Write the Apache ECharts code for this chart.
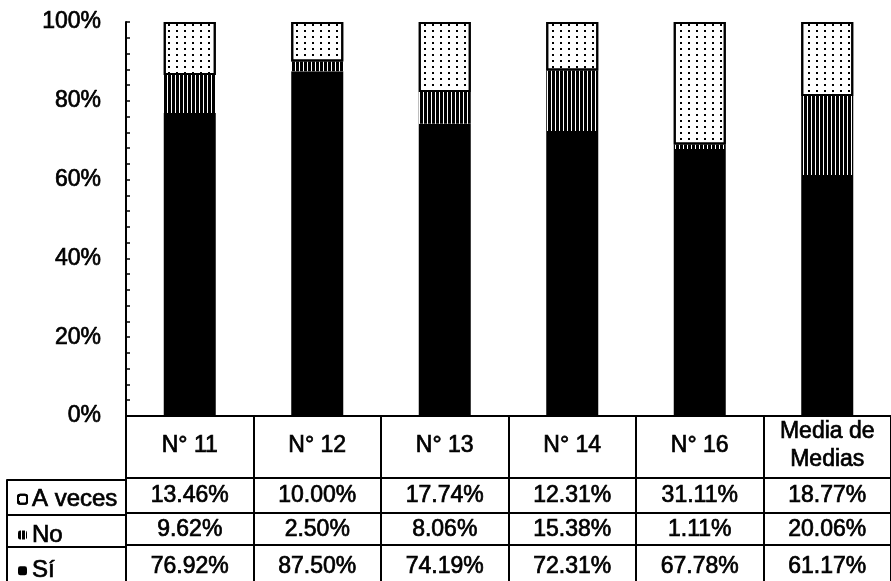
<!DOCTYPE html>
<html>
<head>
<meta charset="utf-8">
<script src="https://cdn.jsdelivr.net/npm/echarts@6/dist/echarts.min.js"></script>
<style>
html,body{margin:0;padding:0;background:#fff;}
#chart{width:891px;height:581px;}
</style>
</head>
<body>
<div id="chart"></div>
<script>
const categories = ['N° 11', 'N° 12', 'N° 13', 'N° 14', 'N° 16', 'Media de\nMedias'];
const siValues = [76.92, 87.50, 74.19, 72.31, 67.78, 61.17];
const noValues = [9.62, 2.50, 8.06, 15.38, 1.11, 20.06];
const aVecesValues = [13.46, 10.00, 17.74, 12.31, 31.11, 18.77];
const seriesNames = ['Sí', 'No', 'A veces'];
const legendOrder = ['A veces', 'No', 'Sí'];
const yMin = 0, yMax = 100, yStep = 20;

const FONT = "'Liberation Sans', Arial, sans-serif";
const FS = 23;
const TXT = { color: '#000', fontFamily: FONT, textBorderColor: '#000', textBorderWidth: 0.7 };
const fmt = v => v.toFixed(2) + '%';

const chart = echarts.init(document.getElementById('chart'));

function tableAxis(gridIndex, data, offset, tickLen, margin, formatter) {
  return {
    type: 'category', gridIndex: gridIndex, position: 'bottom', offset: offset, data: data,
    axisLine: { show: true, onZero: false, lineStyle: { color: '#000', width: 2 } },
    axisTick: { show: true, interval: 0, length: tickLen, lineStyle: { color: '#000', width: 2 } },
    axisLabel: formatter ? Object.assign({
      show: true, interval: 0, margin: margin, verticalAlign: 'middle',
      fontSize: FS, lineHeight: 28,
      formatter: formatter
    }, TXT) : { show: false },
    splitLine: { show: false }
  };
}

const option = {
  animation: false,
  backgroundColor: '#fff',
  textStyle: { fontFamily: FONT },
  grid: [
    { left: 126, right: -8, top: 22, bottom: 163 },
    { left: 7, width: 119, top: 22, bottom: 163 }
  ],
  legend: {
    orient: 'vertical', left: 17, top: 487, padding: 0,
    width: 110, height: 120,
    itemWidth: 9, itemHeight: 9, itemGap: 11,
    data: legendOrder,
    selectedMode: false,
    textStyle: Object.assign({ fontSize: 24, lineHeight: 22 }, TXT)
  },
  xAxis: [
    tableAxis(0, categories, 0, 62, 30, (v) => v),
    tableAxis(0, categories, 62, 35, 18, (v, i) => fmt(aVecesValues[i])),
    tableAxis(0, categories, 97, 32, 17, (v, i) => fmt(noValues[i])),
    tableAxis(0, categories, 129, 40, 22, (v, i) => fmt(siValues[i])),
    tableAxis(1, [''], 62, 35, 0, null),
    tableAxis(1, [''], 97, 32, 0, null),
    tableAxis(1, [''], 129, 40, 0, null)
  ],
  yAxis: [
    {
      type: 'value', gridIndex: 0, min: yMin, max: yMax, interval: yStep,
      axisLine: { show: true, lineStyle: { color: '#000', width: 2 } },
      axisTick: { show: true, inside: true, length: 4, lineStyle: { color: '#000', width: 1.5 } },
      minorTick: { show: true, splitNumber: 5, length: 4, lineStyle: { color: '#000', width: 1.5 } },
      splitLine: { show: false },
      axisLabel: Object.assign({ formatter: '{value}%', fontSize: FS, margin: 25 }, TXT)
    },
    { type: 'value', gridIndex: 1, show: false, min: 0, max: 1 }
  ],
  series: [
    {
      name: seriesNames[0], type: 'bar', stack: 'total', barWidth: 52,
      xAxisIndex: 0, yAxisIndex: 0, data: siValues,
      itemStyle: { color: '#000' }
    },
    {
      name: seriesNames[1], type: 'bar', stack: 'total', barWidth: 52,
      xAxisIndex: 0, yAxisIndex: 0, data: noValues,
      itemStyle: {
        color: '#fff',
        decal: { symbol: 'rect', symbolSize: 1, symbolKeepAspect: false, color: '#000',
                 dashArrayX: [3, 1], dashArrayY: [6, 0] }
      }
    },
    {
      name: seriesNames[2], type: 'bar', stack: 'total', barWidth: 52,
      xAxisIndex: 0, yAxisIndex: 0, data: aVecesValues,
      itemStyle: {
        color: '#fff', borderColor: '#000', borderWidth: 2,
        decal: { symbol: 'rect', symbolSize: 1, symbolKeepAspect: false, color: '#000',
                 dashArrayX: [2, 6], dashArrayY: [2, 4] }
      }
    }
  ]
};
chart.setOption(option);
</script>
</body>
</html>
